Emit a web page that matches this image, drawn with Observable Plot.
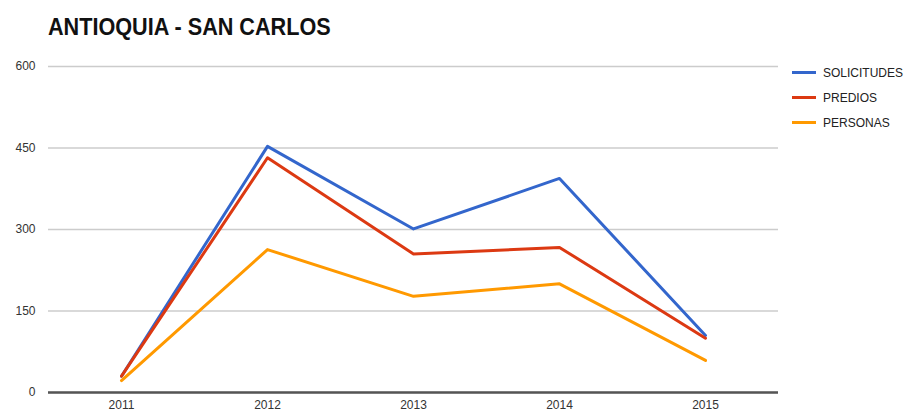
<!DOCTYPE html>
<html>
<head>
<meta charset="utf-8">
<script src="https://cdn.jsdelivr.net/npm/d3@7"></script>
<script src="https://cdn.jsdelivr.net/npm/@observablehq/plot@0.6"></script>
<style>
  html, body { margin: 0; padding: 0; background: #fff; font-family: "Liberation Sans", Arial, sans-serif; }
  #wrap { position: relative; width: 916px; height: 417px; overflow: hidden; }
  #ttlrow { height: 50px; box-sizing: border-box; padding-left: 48px; padding-top: 14px; }
  #ttl { display: inline-block; margin: 0; font-size: 23px; line-height: 26px; font-weight: bold; color: #111; white-space: nowrap; transform: scaleX(0.94); transform-origin: 0 0; }
  #chart { display: block; }
  #chart svg { display: block; }
  #legend { position: absolute; left: 792px; top: 60px; font-size: 12px; color: #222; }
  .item { display: flex; align-items: center; height: 25px; }
  .sw { width: 24px; height: 3px; margin-right: 7px; }
</style>
</head>
<body>
<div id="wrap">
  <div id="ttlrow"><span id="ttl">ANTIOQUIA - SAN CARLOS</span></div>
  <div id="chart"></div>
  <div id="legend"></div>
</div>
<script>
const years = ["2011", "2012", "2013", "2014", "2015"];
const solicitudes = [30, 453, 301, 394, 105];
const predios = [30, 432, 255, 267, 100];
const personas = [22, 263, 177, 200, 59];
const yTicks = [0, 150, 300, 450, 600];
const seriesNames = ["SOLICITUDES", "PREDIOS", "PERSONAS"];
const seriesColors = ["#3366cc", "#dc3912", "#ff9900"];

const seriesValues = [solicitudes, predios, personas];
const data = [];
seriesNames.forEach((name, i) => {
  years.forEach((yr, j) => data.push({ serie: name, year: yr, value: seriesValues[i][j] }));
});

const chart = Plot.plot({
  width: 916,
  height: 367,
  marginLeft: 48,
  marginRight: 138,
  marginTop: 16,
  marginBottom: 25,
  style: { fontFamily: "Liberation Sans, Arial, sans-serif", fontSize: "12px", color: "#333" },
  x: { type: "point", domain: years, padding: 0.5, label: null },
  y: { domain: [0, 600], label: null },
  color: { domain: seriesNames, range: seriesColors },
  marks: [
    Plot.gridY(yTicks, { stroke: "#cccccc", strokeOpacity: 1, strokeWidth: 1.5 }),
    Plot.axisY(yTicks, { tickSize: 0, tickPadding: 0, dx: -13, fill: "#333", textAnchor: "end" }),
    Plot.axisX(years, { tickSize: 0, tickPadding: 8, fill: "#333" }),
    Plot.ruleY([0], { stroke: "#555", strokeWidth: 2.5 }),
    Plot.line(data, { x: "year", y: "value", z: "serie", stroke: "serie", strokeWidth: 3 })
  ]
});
document.getElementById("chart").appendChild(chart);

const legend = document.getElementById("legend");
seriesNames.forEach((name, i) => {
  const item = document.createElement("div");
  item.className = "item";
  item.innerHTML = `<div class="sw" style="background:${seriesColors[i]}"></div><span>${name}</span>`;
  legend.appendChild(item);
});
</script>
</body>
</html>
